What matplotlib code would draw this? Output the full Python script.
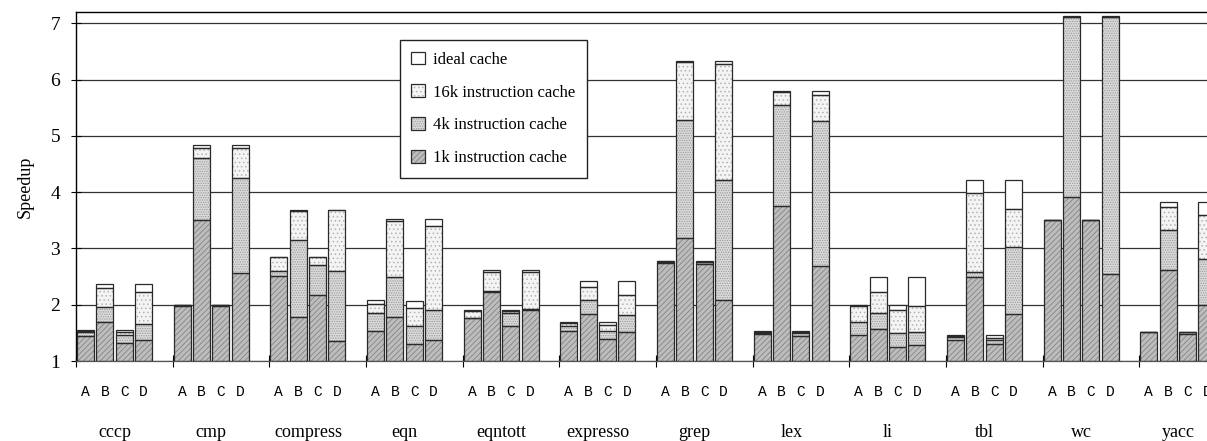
import numpy as np
import matplotlib
matplotlib.use("Agg")
import matplotlib.pyplot as plt
from matplotlib.legend_handler import HandlerTuple


benchmarks = ["cccp", "cmp", "compress", "eqn", "eqntott", "expresso",
              "grep", "lex", "li", "tbl", "wc", "yacc"]
configs = ["A", "B", "C", "D"]

# speedup reached with each cache, A B C D per benchmark (cumulative)
k1 = [1.44, 1.70, 1.32, 1.38,  1.98, 3.51, 1.98, 2.56,  2.51, 1.78, 2.18, 1.35,
      1.54, 1.78, 1.31, 1.38,  1.76, 2.23, 1.63, 1.91,  1.54, 1.84, 1.39, 1.51,
      2.74, 3.18, 2.72, 2.09,  1.48, 3.76, 1.44, 2.69,  1.46, 1.57, 1.25, 1.29,
      1.38, 2.50, 1.31, 1.83,  3.50, 3.91, 3.50, 2.55,  1.51, 2.62, 1.48, 2.00]
k4 = [1.51, 1.96, 1.46, 1.66,  1.99, 4.60, 1.99, 4.25,  2.59, 3.15, 2.70, 2.59,
      1.85, 2.49, 1.63, 1.90,  1.77, 2.24, 1.85, 1.93,  1.62, 2.08, 1.54, 1.81,
      2.76, 5.28, 2.75, 4.22,  1.50, 5.55, 1.49, 5.27,  1.69, 1.85, 1.49, 1.51,
      1.43, 2.58, 1.37, 3.02,  3.50, 7.11, 3.50, 7.11,  1.51, 3.32, 1.51, 2.81]
k16 = [1.54, 2.29, 1.51, 2.22,  1.99, 4.78, 1.99, 4.78,  2.84, 3.67, 2.84, 3.68,
       2.02, 3.48, 1.94, 3.39,  1.88, 2.58, 1.89, 2.58,  1.67, 2.31, 1.64, 2.18,
       2.77, 6.32, 2.76, 6.28,  1.52, 5.77, 1.51, 5.72,  1.97, 2.22, 1.91, 1.98,
       1.45, 3.98, 1.41, 3.70,  3.50, 7.12, 3.50, 7.12,  1.52, 3.74, 1.51, 3.60]
ideal = [1.55, 2.36, 1.55, 2.36,  2.00, 4.84, 2.00, 4.84,  2.85, 3.69, 2.85, 3.69,
         2.08, 3.53, 2.07, 3.53,  1.90, 2.62, 1.90, 2.62,  1.69, 2.43, 1.69, 2.43,
         2.78, 6.33, 2.78, 6.33,  1.53, 5.80, 1.53, 5.80,  1.99, 2.49, 1.99, 2.49,
         1.46, 4.21, 1.46, 4.21,  3.50, 7.13, 3.50, 7.13,  1.52, 3.82, 1.52, 3.82]

series = [
    ("1k instruction cache", k1, "#bdbdbd", "#858585", "//////"),
    ("4k instruction cache", k4, "#dadada", "#9a9a9a", "......."),
    ("16k instruction cache", k16, "#f4f4f4", "#b4b4b4", "...."),
    ("ideal cache", ideal, "#ffffff", "#ffffff", None),
]

plt.rcParams["hatch.linewidth"] = 0.6
serif = "Liberation Serif"

fig = plt.figure(figsize=(12.07, 4.41), dpi=100)
ax = fig.add_axes([76 / 1207, 80 / 441, 1160 / 1207, 349 / 441])

n = len(benchmarks)
x = np.array([i + 0.01 + 0.2 * j for i in range(n) for j in range(len(configs))])
width = 0.176

handles = []
bottom = np.ones(len(x))
for label, vals, face, hcol, hatch in series:
    top = np.array(vals)
    h = top - bottom
    filled = ax.bar(x, h, width, bottom=bottom, align="edge", color=face,
                    edgecolor=hcol, linewidth=0, hatch=hatch, zorder=2)
    outline = ax.bar(x, h, width, bottom=bottom, align="edge", fill=False,
                     edgecolor="#2a2a2a", linewidth=0.9, zorder=3)
    handles.append(((filled, outline), label))
    bottom = top

ax.set_xlim(0, n)
ax.set_ylim(1, 7.2)
ax.set_yticks(range(1, 8))
ax.yaxis.grid(True, color="#333333", linewidth=0.9)
ax.set_axisbelow(True)
for lab in ax.get_yticklabels():
    lab.set_fontfamily(serif)
    lab.set_fontsize(14)
ax.tick_params(axis="y", direction="inout", length=7, width=0.8, pad=8)

ax.set_xticks(range(n + 1))
ax.set_xticklabels([])
ax.tick_params(axis="x", direction="inout", length=8, width=0.8)

ax.spines["right"].set_visible(False)
ax.spines["top"].set_linewidth(1.0)
ax.spines["left"].set_linewidth(1.0)
ax.spines["bottom"].set_linewidth(0.9)
ax.spines["bottom"].set_color("#555555")

ax.set_ylabel("Speedup", fontfamily=serif, fontsize=13, labelpad=12)

tr = ax.get_xaxis_transform()
for k, xc in enumerate(x + width / 2):
    ax.text(xc, -0.089, configs[k % 4], transform=tr, ha="center", va="center",
            fontfamily="Liberation Mono", fontsize=10.5, clip_on=False)
for i, name in enumerate(benchmarks):
    ax.text(i + 0.40, -0.205, name, transform=tr, ha="center", va="center",
            fontfamily=serif, fontsize=13, clip_on=False)

hs = [h for h, _ in handles][::-1]
ls = [l for _, l in handles][::-1]
leg = ax.legend(hs, ls, handler_map={tuple: HandlerTuple(ndivide=1, pad=0)},
                loc="upper left", bbox_to_anchor=(0.279, 0.92),
                prop={"family": serif, "size": 12}, frameon=True,
                fancybox=False, framealpha=1, edgecolor="#222222",
                handlelength=0.8, handleheight=0.8, handletextpad=0.5,
                labelspacing=1.0, borderpad=0.7, borderaxespad=0)
leg.get_frame().set_linewidth(1.0)

fig.savefig("out.png", dpi=100)
